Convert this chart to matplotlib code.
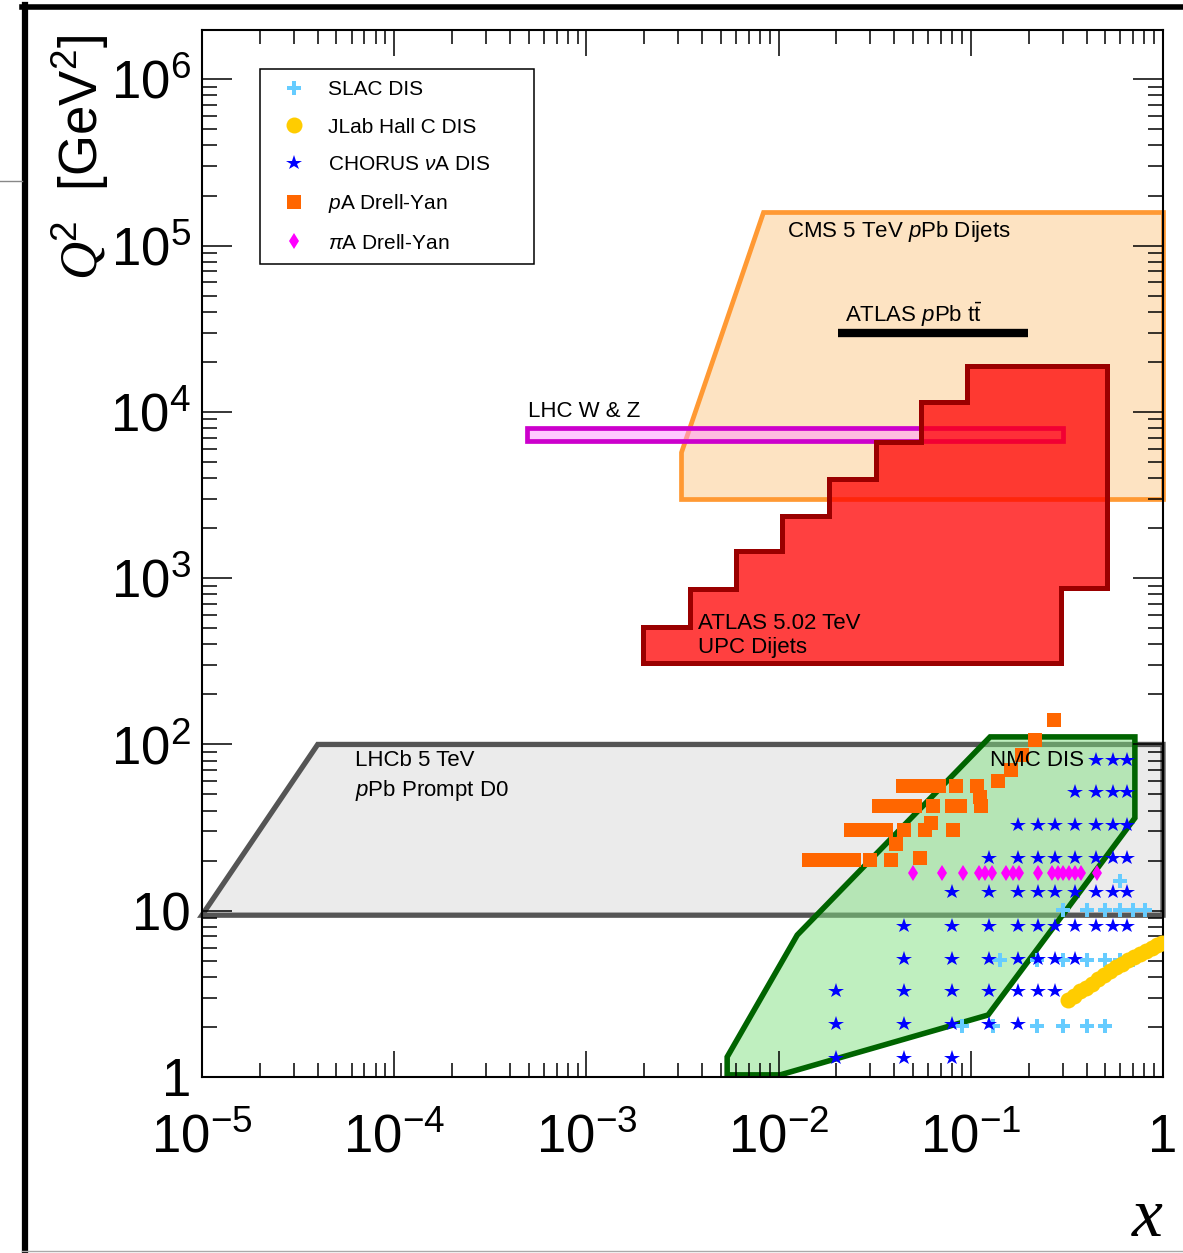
import numpy as np
import matplotlib
matplotlib.use("Agg")
import matplotlib.pyplot as plt
from matplotlib.patches import Polygon
from matplotlib.lines import Line2D
from matplotlib.ticker import FixedLocator, LogLocator, FuncFormatter, NullFormatter

plt.rcParams['font.family'] = ['Liberation Sans', 'DejaVu Sans']
plt.rcParams['mathtext.fontset'] = 'custom'
plt.rcParams['mathtext.rm'] = 'Liberation Sans'
plt.rcParams['mathtext.it'] = 'Liberation Sans:italic'
plt.rcParams['mathtext.bf'] = 'Liberation Sans:bold'
plt.rcParams['mathtext.cal'] = 'Liberation Serif:italic'

# ---------------- data (x, Q^2) ----------------
cms_x = [0.0083, 1.0, 1.0, 0.0031, 0.0031]
cms_q2 = [1.6e5, 1.6e5, 3.0e3, 3.0e3, 5.7e3]

atlas_tt_x = [0.0204, 0.199]
atlas_tt_q2 = [3.0e4, 3.0e4]

wz_x = [4.9e-4, 0.30, 0.30, 4.9e-4]
wz_q2 = [6.7e3, 6.7e3, 8.05e3, 8.05e3]

upc_x = [0.00197, 0.00197, 0.00346, 0.00346, 0.0060, 0.0060, 0.0104, 0.0104,
         0.0183, 0.0183, 0.0321, 0.0321, 0.0551, 0.0551, 0.0955, 0.0955,
         0.512, 0.512, 0.294, 0.294]
upc_q2 = [309, 508, 508, 860, 860, 1455, 1455, 2362, 2362, 3945, 3945, 6580,
          6580, 11460, 11460, 18850, 18850, 872, 872, 309]

lhcb_x = [1e-5, 4.0e-5, 1.0, 1.0]
lhcb_q2 = [9.4, 100, 100, 9.4]

nmc_x = [0.0054, 0.0054, 0.0125, 0.126, 0.714, 0.714, 0.123, 0.0102]
nmc_q2 = [1.03, 1.32, 7.14, 111, 111, 36.1, 2.36, 1.03]

slac_x = [0.30, 0.40, 0.50, 0.60, 0.70, 0.81,
          0.60,
          0.142, 0.22, 0.30, 0.40, 0.50, 0.60, 0.70,
          0.09, 0.131, 0.22, 0.30, 0.40, 0.50]
slac_q2 = [10.1, 10.1, 10.1, 10.1, 10.1, 10.1,
           15.1,
           5.05, 5.05, 5.05, 5.05, 5.05, 5.05, 5.05,
           2.03, 2.03, 2.03, 2.03, 2.03, 2.03]

jlab_x = [0.321, 0.344, 0.370, 0.398, 0.428, 0.459, 0.493, 0.530, 0.569,
          0.612, 0.658, 0.707, 0.759, 0.816, 0.877, 0.931, 0.989]
jlab_q2 = [2.90, 3.08, 3.27, 3.45, 3.65, 3.86, 4.08, 4.33, 4.59,
           4.81, 5.05, 5.27, 5.49, 5.72, 5.97, 6.18, 6.39]

chorus_x = [0.45, 0.55, 0.65,
            0.35, 0.45, 0.55, 0.65,
            0.175, 0.225, 0.275, 0.35, 0.45, 0.55, 0.65,
            0.125, 0.175, 0.225, 0.275, 0.35, 0.45, 0.55, 0.65,
            0.08, 0.125, 0.175, 0.225, 0.275, 0.35, 0.45, 0.55, 0.65,
            0.045, 0.08, 0.125, 0.175, 0.225, 0.275, 0.35, 0.45, 0.55, 0.65,
            0.045, 0.08, 0.125, 0.175, 0.225, 0.275, 0.35,
            0.02, 0.045, 0.08, 0.125, 0.175, 0.225, 0.275,
            0.02, 0.045, 0.08, 0.125, 0.175,
            0.02, 0.045, 0.08]
chorus_q2 = [80.5, 80.5, 80.5,
             51.9, 51.9, 51.9, 51.9,
             32.8, 32.8, 32.8, 32.8, 32.8, 32.8, 32.8,
             20.7, 20.7, 20.7, 20.7, 20.7, 20.7, 20.7, 20.7,
             13.0, 13.0, 13.0, 13.0, 13.0, 13.0, 13.0, 13.0, 13.0,
             8.1, 8.1, 8.1, 8.1, 8.1, 8.1, 8.1, 8.1, 8.1, 8.1,
             5.1, 5.1, 5.1, 5.1, 5.1, 5.1, 5.1,
             3.3, 3.3, 3.3, 3.3, 3.3, 3.3, 3.3,
             2.07, 2.07, 2.07, 2.07, 2.07,
             1.31, 1.31, 1.31]

pady_x = [0.0144, 0.0164, 0.0188, 0.0214, 0.0247, 0.0299, 0.0385, 0.0544,
          0.0238, 0.0272, 0.0313, 0.0362, 0.0449, 0.0578, 0.0807, 0.0408, 0.0621,
          0.0333, 0.0380, 0.0444, 0.0513, 0.0635, 0.0798, 0.0879, 0.113,
          0.0444, 0.0506, 0.0585, 0.0684, 0.0837, 0.1076, 0.1117,
          0.139, 0.162, 0.1845, 0.216, 0.271]
pady_q2 = [20.2, 20.2, 20.2, 20.2, 20.2, 20.2, 20.2, 20.7,
           30.6, 30.6, 30.6, 30.6, 30.6, 30.6, 30.6, 25.2, 33.7,
           42.6, 42.6, 42.6, 42.6, 42.6, 42.6, 42.6, 42.6,
           56.2, 56.2, 56.2, 56.2, 56.2, 56.2, 48.3,
           60.2, 70.2, 86.4, 106.3, 140.3]

pidy_x = [0.0502, 0.0706, 0.0908, 0.1106, 0.1186, 0.1285, 0.1524, 0.1652, 0.1786,
          0.2228, 0.2635, 0.285, 0.303, 0.325, 0.348, 0.374, 0.455]
pidy_q2 = [16.9, 16.9, 16.9, 16.9, 16.9, 16.9, 16.9, 16.9, 16.9,
           16.9, 16.9, 16.9, 16.9, 16.9, 16.9, 16.9, 16.9]

x_major = [1e-5, 1e-4, 1e-3, 1e-2, 1e-1, 1.0]
y_major = [1, 10, 1e2, 1e3, 1e4, 1e5, 1e6]

# ---------------- figure ----------------
W, H = 1183, 1253
fig = plt.figure(figsize=(W / 100, H / 100), dpi=100)
ax = fig.add_axes([202 / W, 1 - 1077 / H, (1163 - 202) / W, (1077 - 30) / H])
ax.set_xscale('log')
ax.set_yscale('log')
ax.set_xlim(1e-5, 1.0)
ax.set_ylim(1.0, 1.98e6)


def xy(xs, ys):
    return np.column_stack([xs, ys])


ax.add_patch(Polygon(xy(lhcb_x, lhcb_q2), closed=True, facecolor='#ebebeb',
                     edgecolor='#555555', lw=3.8, zorder=1.0, clip_on=False,
                     joinstyle='miter'))
ax.add_patch(Polygon(xy(cms_x, cms_q2), closed=True, facecolor='#fde3c2',
                     edgecolor='#ff9933', lw=3.4, zorder=1.0, clip_on=False,
                     joinstyle='miter'))
ax.add_patch(Polygon(xy(wz_x, wz_q2), closed=True, facecolor=(1, 0.6, 1, 0.5),
                     edgecolor='#cc00cc', lw=3.4, zorder=1.1))
ax.add_patch(Polygon(xy(upc_x, upc_q2), closed=True, facecolor=(1, 0, 0, 0.75),
                     edgecolor='#9a0000', lw=3.6, zorder=1.2, joinstyle='miter'))
ax.plot(atlas_tt_x, atlas_tt_q2, color='black', lw=6, solid_capstyle='butt', zorder=1.3)
ax.add_patch(Polygon(xy(nmc_x, nmc_q2), closed=True, facecolor=(0.5, 0.88, 0.5, 0.5),
                     edgecolor='#006400', lw=4.0, zorder=1.2))

h_slac, = ax.plot(slac_x, slac_q2, ls='none', marker='P', ms=10.5, mew=0,
                  color='#66ccff', zorder=3, label='SLAC DIS')
h_jlab, = ax.plot(jlab_x, jlab_q2, ls='none', marker='o', ms=11.5, mew=0,
                  color='#ffcc00', zorder=3, label='JLab Hall C DIS')
h_chorus, = ax.plot(chorus_x, chorus_q2, ls='none', marker='*', ms=11.5, mew=0,
                    color='#0000ff', zorder=3.2, label=r'CHORUS $\nu$A DIS')
h_pa, = ax.plot(pady_x, pady_q2, ls='none', marker='s', ms=9.6, mew=0,
                color='#ff6600', zorder=3.1, label=r'$p$A Drell-Yan')
h_pi, = ax.plot(pidy_x, pidy_q2, ls='none', marker='d', ms=8.5, mew=0,
                color='#ff00ff', zorder=3.1, label=r'$\pi$A Drell-Yan')

# annotations
tk = dict(fontsize=16, ha='left', va='center', zorder=5)
ax.text(0.01107, 1.22e5, r'CMS 5 TeV $p$Pb Dijets', **tk)
ax.text(0.0222, 3.82e4, r'ATLAS $p$Pb t$\bar{\mathrm{t}}$', **tk)
ax.text(4.97e-4, 1.01e4, 'LHC W & Z', **tk)
ax.text(3.81e-3, 537, 'ATLAS 5.02 TeV', **tk)
ax.text(3.81e-3, 385, 'UPC Dijets', **tk)
ax.text(6.25e-5, 80.5, 'LHCb 5 TeV', **tk)
ax.text(6.25e-5, 53.2, r'$p$Pb Prompt D0', **tk)
ax.text(0.126, 80.5, 'NMC DIS', **tk)

# axes styling
for s in ax.spines.values():
    s.set_linewidth(1.5)
    s.set_zorder(2.5)


def fmt(v, pos):
    e = int(round(np.log10(v)))
    if e == 0:
        return '1'
    if e == 1:
        return '10'
    return r'$10^{%d}$' % e


ax.xaxis.set_major_locator(FixedLocator(x_major))
ax.yaxis.set_major_locator(FixedLocator(y_major))
ax.xaxis.set_minor_locator(LogLocator(base=10, subs=np.arange(2, 10), numticks=30))
ax.yaxis.set_minor_locator(LogLocator(base=10, subs=np.arange(2, 10), numticks=30))
ax.xaxis.set_major_formatter(FuncFormatter(fmt))
ax.yaxis.set_major_formatter(FuncFormatter(fmt))
ax.xaxis.set_minor_formatter(NullFormatter())
ax.yaxis.set_minor_formatter(NullFormatter())
ax.tick_params(which='both', direction='in', top=True, right=True, width=1.1,
               labelsize=38)
ax.tick_params(axis='x', which='major', length=19, pad=26)
ax.tick_params(axis='x', which='minor', length=10)
ax.tick_params(axis='y', which='major', length=21.5, pad=8)
ax.tick_params(axis='y', which='minor', length=11)

# legend
leg = ax.legend(handles=[h_slac, h_jlab, h_chorus, h_pa, h_pi], loc='upper left',
                bbox_to_anchor=(0.0604, 0.9628, 0.2851, 0), mode='expand',
                borderaxespad=0, fontsize=15, numpoints=1, fancybox=False,
                framealpha=1, edgecolor='black', borderpad=0.55, labelspacing=0.88,
                handlelength=2.2, handletextpad=0.5)
leg.get_frame().set_linewidth(1.1)
leg.set_zorder(6)

# axis titles
fig.text(80 / W, 1 - 157 / H, r'$\mathcal{Q}^{2}$  [GeV$^{2}$]', rotation=90,
         ha='center', va='center', fontsize=38)
fig.text(1148 / W, 1 - 1218 / H, r'$\mathcal{x}$', ha='center', va='center', fontsize=50)

# page frame decorations
fig.add_artist(Line2D([25 / W, 25 / W], [0, 1 - 5 / H], color='black', lw=4.5,
                      transform=fig.transFigure))
fig.add_artist(Line2D([22 / W, 1], [1 - 7 / H, 1 - 7 / H], color='black', lw=4,
                      transform=fig.transFigure))
fig.add_artist(Line2D([0, 22 / W], [1 - 181 / H, 1 - 181 / H], color='#888888', lw=1,
                      transform=fig.transFigure))
fig.add_artist(Line2D([22 / W, 1], [1 - 1251 / H, 1 - 1251 / H], color='#aaaaaa', lw=1,
                      transform=fig.transFigure))

fig.savefig('out.png', dpi=100)
